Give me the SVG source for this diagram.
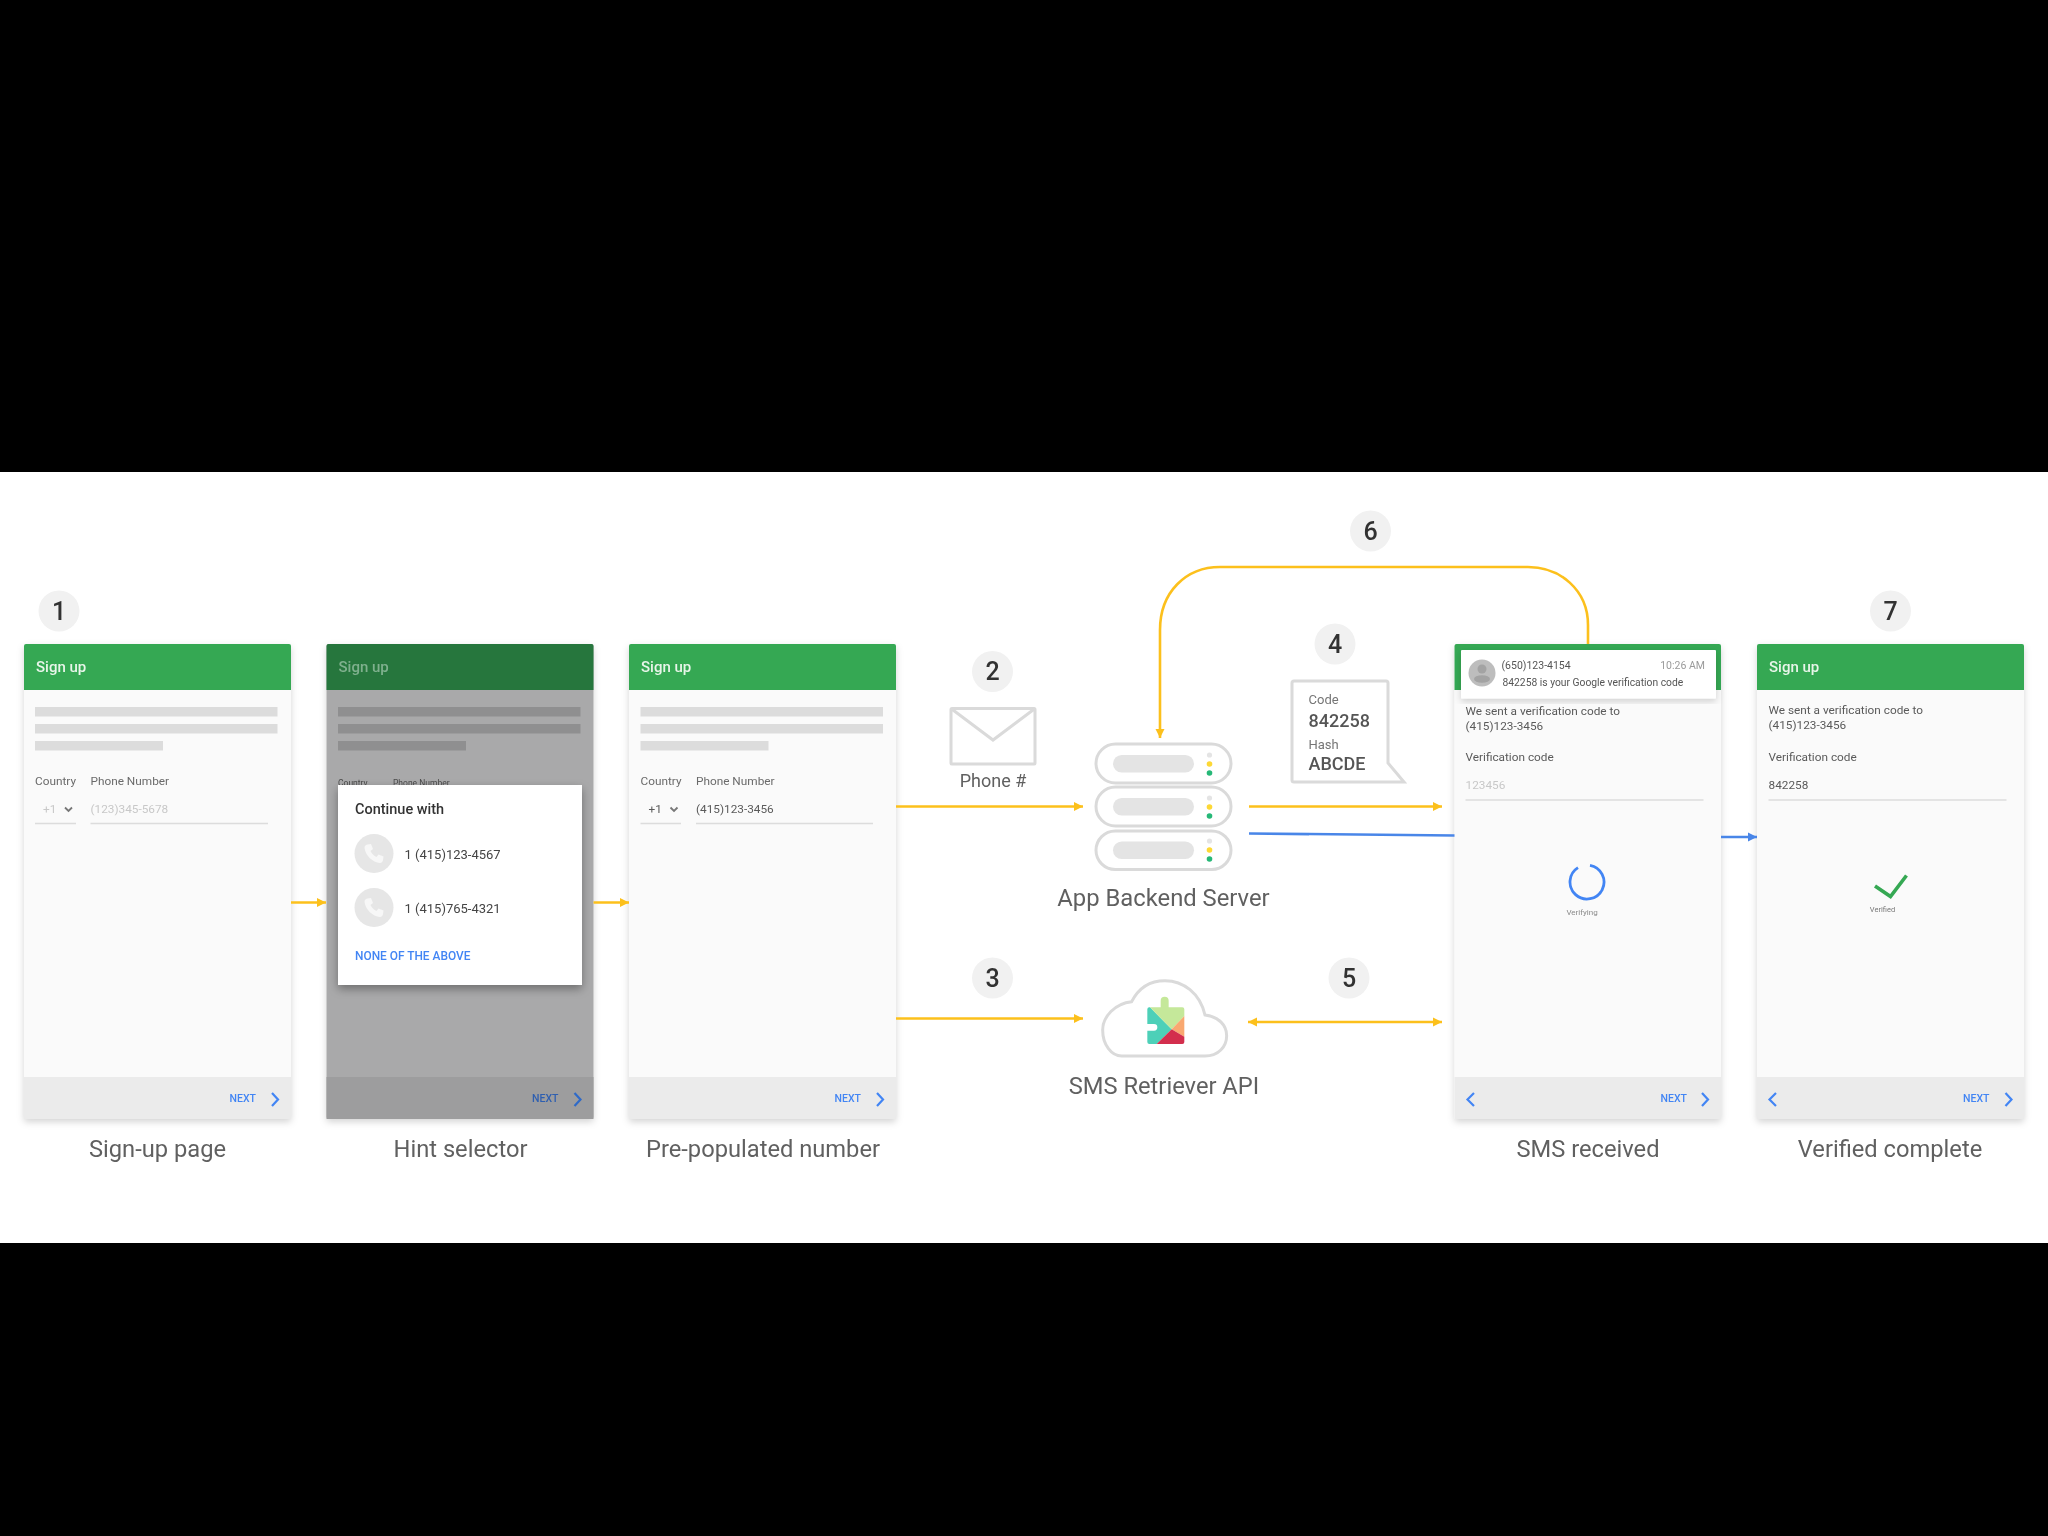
<svg xmlns="http://www.w3.org/2000/svg" width="2048" height="1536" viewBox="0 0 2048 1536">
<style>
text{font-family:Roboto,"Liberation Sans",sans-serif;fill:#616161}
.hdr{fill:#34a853}.body{fill:#fafafa}.foot{fill:#ebebeb}
.su{font-size:15px;font-weight:500;fill:#e8f5e9}
.ln{fill:#dcdcdc}
.lb{font-size:11.800px;fill:#6a6a6a}
.val{font-size:11.800px;fill:#5a5a5a}
.ph{font-size:11.800px;fill:#c8c8c8}
.ul{stroke:#dcdcdc;stroke-width:1.500;fill:none}
.nx{font-size:10.500px;fill:#4285f4;font-weight:500}
.chev{stroke:#4285f4;stroke-width:2.200;fill:none}
.cap{font-size:23.700px;text-anchor:middle}
.numc{fill:#f1f1f1}
.num{font-size:25px;font-weight:500;fill:#333;text-anchor:middle}
.ic{fill:none;stroke:#dadada;stroke-width:3}
.pill{fill:#fff;stroke:#dadada;stroke-width:3}
.inner{fill:#e4e4e4}
.y{fill:#fdd835}.g{fill:#26b877}.w{fill:#e4e4e4}
.cy{fill:none;stroke:#fcc01e;stroke-width:2.600}
.cb{fill:none;stroke:#4a86e8;stroke-width:2.600}
</style>
<defs>
<filter id="soft" x="0" y="0" width="2048" height="1536" filterUnits="userSpaceOnUse"><feGaussianBlur stdDeviation="0.650"/></filter>
<filter id="sh" x="-10%" y="-10%" width="120%" height="120%"><feDropShadow dx="0" dy="3" stdDeviation="3.500" flood-color="#000" flood-opacity="0.170"/></filter>
<filter id="sh2" x="-10%" y="-10%" width="120%" height="125%"><feDropShadow dx="0" dy="4" stdDeviation="5" flood-color="#000" flood-opacity="0.350"/></filter>
<marker id="ay" markerUnits="userSpaceOnUse" markerWidth="10" markerHeight="10" refX="9" refY="5" orient="auto-start-reverse"><path d="M0 0.500L9 5L0 9.500z" fill="#fcc01e"/></marker>
<marker id="ab" markerUnits="userSpaceOnUse" markerWidth="10" markerHeight="10" refX="9" refY="5" orient="auto"><path d="M0 0.500L9 5L0 9.500z" fill="#4a86e8"/></marker>
<path id="handset" d="M-6.500-9L-3-9.500L-1-4.500L-3.500-2.500C-2.500 0 0 2.500 2.500 3.500L4.500 1L9.500 3L9 6.500C9 8 7.500 9.500 6 9.500C-1.500 9-9 1.500-9.500-6C-9.500-7.500-8-9-6.500-9z" fill="#f7f7f7"/>
</defs>
<rect width="2048" height="1536" fill="#000"/>
<rect y="472" width="2048" height="771" fill="#fff"/>
<g filter="url(#soft)">

<g id="screen-signup">
<rect x="24" y="644" width="267" height="475" rx="2" class="body" filter="url(#sh)"/>
<path class="hdr" d="M24 690V646a2 2 0 0 1 2-2H289a2 2 0 0 1 2 2V690z"/>
<rect x="24" y="1077" width="267" height="42" class="foot"/>
<text x="36" y="672" class="su">Sign up</text>
<rect x="35" y="707" width="242.500" height="9.500" class="ln"/><rect x="35" y="724" width="242.500" height="9.500" class="ln"/><rect x="35" y="741" width="128" height="9.500" class="ln"/>
<text x="35" y="785" class="lb">Country</text><text x="90.500" y="785" class="lb">Phone Number</text>
<text x="43" y="813" class="ph">+1</text><path d="M65 807.500l3.500 3.500l3.500-3.500" fill="none" stroke="#777" stroke-width="1.800"/>
<text x="90.500" y="813" class="ph">(123)345-5678</text>
<path class="ul" d="M35 823.500H76M90.500 823.500H268"/>
<text x="229.500" y="1102" class="nx">NEXT</text><path class="chev" d="M272 1093l6 6.500l-6 6.500"/>
<text x="157.500" y="1157" class="cap">Sign-up page</text>
</g>

<g id="screen-hint">
<rect x="326.500" y="644" width="267" height="475" rx="2" fill="#a9a9aa" filter="url(#sh)"/>
<path fill="#26763c" d="M326.500 690V646a2 2 0 0 1 2-2H591.500a2 2 0 0 1 2 2V690z"/>
<rect x="326.500" y="1077" width="267" height="42" fill="#9d9d9e"/>
<text x="338.500" y="672" class="su" style="fill:#7fb08e">Sign up</text>
<rect x="338" y="707" width="242.500" height="9.500" fill="#8f8f90"/><rect x="338" y="724" width="242.500" height="9.500" fill="#8f8f90"/><rect x="338" y="741" width="128" height="9.500" fill="#8f8f90"/>
<text x="338" y="786" font-size="8.500" style="fill:#4a4a4a">Country</text><text x="393" y="786" font-size="8.500" style="fill:#4a4a4a">Phone Number</text>
<rect x="338" y="785" width="244" height="200" fill="#fff" filter="url(#sh2)"/>
<text x="355" y="814" font-size="14.500" font-weight="500" style="fill:#333">Continue with</text>
<circle cx="374" cy="853.500" r="19.500" fill="#e6e6e6"/><circle cx="374" cy="907.500" r="19.500" fill="#e6e6e6"/>
<use href="#handset" x="374" y="853.500"/><use href="#handset" x="374" y="907.500"/>
<text x="404.500" y="859" font-size="13" style="fill:#444">1 (415)123-4567</text>
<text x="404.500" y="912.500" font-size="13" style="fill:#444">1 (415)765-4321</text>
<text x="355" y="960" font-size="11.900" font-weight="500" style="fill:#4285f4">NONE OF THE ABOVE</text>
<text x="532" y="1102" class="nx" style="fill:#2f5fb0">NEXT</text><path class="chev" style="stroke:#2f6ac8" d="M574.500 1093l6 6.500l-6 6.500"/>
<text x="460.500" y="1157" class="cap">Hint selector</text>
</g>

<g id="screen-prepopulated">
<rect x="629" y="644" width="267" height="475" rx="2" class="body" filter="url(#sh)"/>
<path class="hdr" d="M629 690V646a2 2 0 0 1 2-2H894a2 2 0 0 1 2 2V690z"/>
<rect x="629" y="1077" width="267" height="42" class="foot"/>
<text x="641" y="672" class="su">Sign up</text>
<rect x="640.500" y="707" width="242.500" height="9.500" class="ln"/><rect x="640.500" y="724" width="242.500" height="9.500" class="ln"/><rect x="640.500" y="741" width="128" height="9.500" class="ln"/>
<text x="640.500" y="785" class="lb">Country</text><text x="696" y="785" class="lb">Phone Number</text>
<text x="648.500" y="813" class="val">+1</text><path d="M670.500 807.500l3.500 3.500l3.500-3.500" fill="none" stroke="#777" stroke-width="1.800"/>
<text x="696" y="813" class="val">(415)123-3456</text>
<path class="ul" d="M640.500 823.500H681M696 823.500H873"/>
<text x="834.500" y="1102" class="nx">NEXT</text><path class="chev" d="M877 1093l6 6.500l-6 6.500"/>
<text x="763" y="1157" class="cap">Pre-populated number</text>
</g>

<g id="screen-sms">
<rect x="1454.500" y="644" width="266.500" height="475" rx="2" class="body" filter="url(#sh)"/>
<path class="hdr" d="M1454.500 690V646a2 2 0 0 1 2-2H1719a2 2 0 0 1 2 2V690z"/>
<rect x="1454.500" y="1077" width="266.500" height="42" class="foot"/>
<text x="1465.500" y="715" class="val">We sent a verification code to</text>
<text x="1465.500" y="730" class="val">(415)123-3456</text>
<text x="1465.500" y="761" class="val">Verification code</text>
<text x="1465.500" y="788.500" class="ph">123456</text>
<path class="ul" d="M1465.500 800H1703.500"/>
<path d="M1578 867.600A17 17 0 1 0 1590 865.300" fill="none" stroke="#4285f4" stroke-width="2.800"/>
<text x="1582" y="915" font-size="8" text-anchor="middle" style="fill:#8a8a8a">Verifying</text>
<path class="chev" d="M1474 1093l-6.500 6.500l6.500 6.500"/>
<text x="1660.500" y="1102" class="nx">NEXT</text><path class="chev" d="M1702 1093l6 6.500l-6 6.500"/>
<rect x="1461" y="650" width="255" height="48.500" rx="1" fill="#fff" filter="url(#sh)"/>
<circle cx="1482" cy="673" r="13.500" fill="#bdbdbd"/><circle cx="1482" cy="669" r="4.500" fill="#a3a3a3"/><ellipse cx="1482" cy="679" rx="8" ry="3.800" fill="#a3a3a3"/>
<text x="1501.500" y="669" font-size="10.500" style="fill:#555">(650)123-4154</text>
<text x="1705" y="669" font-size="10.500" text-anchor="end" style="fill:#9a9a9a">10:26 AM</text>
<text x="1502.500" y="686" font-size="10.300" style="fill:#555">842258 is your Google verification code</text>
<text x="1588" y="1157" class="cap">SMS received</text>
</g>

<g id="screen-verified">
<rect x="1757" y="644" width="267" height="475" rx="2" class="body" filter="url(#sh)"/>
<path class="hdr" d="M1757 690V646a2 2 0 0 1 2-2H2022a2 2 0 0 1 2 2V690z"/>
<rect x="1757" y="1077" width="267" height="42" class="foot"/>
<text x="1769" y="672" class="su">Sign up</text>
<text x="1768.500" y="714" class="val">We sent a verification code to</text>
<text x="1768.500" y="729" class="val">(415)123-3456</text>
<text x="1768.500" y="761" class="val">Verification code</text>
<text x="1768.500" y="788.500" class="val">842258</text>
<path class="ul" d="M1768.500 800H2006.500"/>
<path d="M1875 886l15.500 10.500l16-21" fill="none" stroke="#34a853" stroke-width="3.600"/>
<text x="1882.500" y="912" font-size="7.500" text-anchor="middle" style="fill:#777">Verified</text>
<path class="chev" d="M1776 1093l-6.500 6.500l6.500 6.500"/>
<text x="1963" y="1102" class="nx">NEXT</text><path class="chev" d="M2005.500 1093l6 6.500l-6 6.500"/>
<text x="1890" y="1157" class="cap">Verified complete</text>
</g>

<g id="envelope">
<rect x="951" y="708.500" width="84" height="55.500" rx="1" class="ic"/>
<path class="ic" d="M951 708.500L993 740L1035 708.500"/>
<text x="993" y="786.500" font-size="18" text-anchor="middle">Phone #</text>
</g>

<g id="server">
<rect x="1096" y="744" width="135" height="39" rx="19.500" class="pill"/><rect x="1096" y="787" width="135" height="39" rx="19.500" class="pill"/><rect x="1096" y="831" width="135" height="38.500" rx="19.250" class="pill"/>
<rect x="1113" y="755" width="81" height="17.500" rx="8.750" class="inner"/><rect x="1113" y="798" width="81" height="17.500" rx="8.750" class="inner"/><rect x="1113" y="841.500" width="81" height="17.500" rx="8.750" class="inner"/>
<circle cx="1209.500" cy="755" r="2.600" class="w"/><circle cx="1209.500" cy="764" r="2.800" class="y"/><circle cx="1209.500" cy="773" r="2.800" class="g"/>
<circle cx="1209.500" cy="798" r="2.600" class="w"/><circle cx="1209.500" cy="807" r="2.800" class="y"/><circle cx="1209.500" cy="816" r="2.800" class="g"/>
<circle cx="1209.500" cy="841" r="2.600" class="w"/><circle cx="1209.500" cy="850" r="2.800" class="y"/><circle cx="1209.500" cy="859" r="2.800" class="g"/>
<text x="1163.500" y="906" font-size="23.800" text-anchor="middle">App Backend Server</text>
</g>

<g id="code-bubble">
<path class="ic" d="M1294 681H1386a2 2 0 0 1 2 2V763L1404 782H1294a2 2 0 0 1-2-2V683a2 2 0 0 1 2-2z"/>
<text x="1308.500" y="704" font-size="13" style="fill:#757575">Code</text>
<text x="1308.500" y="727" font-size="18" font-weight="500" style="fill:#555">842258</text>
<text x="1308.500" y="749" font-size="13" style="fill:#757575">Hash</text>
<text x="1308.500" y="770" font-size="18" font-weight="500" style="fill:#555">ABCDE</text>
</g>

<g id="sms-retriever">
<g transform="translate(1090 970) scale(0.3333)">
<path d="M95 258H345C385 258 410 230 410 197C410 165 385 140 345 135C330 70 280 32 225 32C180 32 145 55 125 95C75 100 38 140 38 180C38 225 65 258 95 258z" fill="#fff" stroke="#dadada" stroke-width="9"/>
<path d="M172 118a6 6 0 0 1 6-6H180L245 178L200 222H178a6 6 0 0 1-6-6V182H192a10 10 0 0 0 0-20H172z" fill="#4dd0b8"/>
<path d="M180 112H212V92a12 12 0 0 1 24 0V112H277a6 6 0 0 1 6 6V138L245 178z" fill="#c5e89a"/>
<path d="M283 138V200L245 178z" fill="#f9a870"/>
<path d="M245 178L283 200V216a6 6 0 0 1-6 6H200z" fill="#d32f4e"/>
</g>
<text x="1164" y="1093.500" font-size="23.700" text-anchor="middle">SMS Retriever API</text>
</g>

<g id="badges">
<circle cx="59" cy="611" r="20.500" class="numc"/><text x="59" y="619.500" class="num">1</text>
<circle cx="992.500" cy="671.500" r="20.500" class="numc"/><text x="992.500" y="680" class="num">2</text>
<circle cx="992.500" cy="978" r="20.500" class="numc"/><text x="992.500" y="986.500" class="num">3</text>
<circle cx="1335" cy="644" r="20.500" class="numc"/><text x="1335" y="652.500" class="num">4</text>
<circle cx="1349" cy="978" r="20.500" class="numc"/><text x="1349" y="986.500" class="num">5</text>
<circle cx="1370.500" cy="531" r="20.500" class="numc"/><text x="1370.500" y="539.500" class="num">6</text>
<circle cx="1890.500" cy="611" r="20.500" class="numc"/><text x="1890.500" y="619.500" class="num">7</text>
</g>

<g id="connectors">
<path class="cy" marker-end="url(#ay)" d="M291 902.500H326"/>
<path class="cy" marker-end="url(#ay)" d="M593.500 902.500H629"/>
<path class="cy" marker-end="url(#ay)" d="M896 806.500H1083"/>
<path class="cy" marker-end="url(#ay)" d="M896 1018.500H1083"/>
<path class="cy" marker-end="url(#ay)" d="M1249 806.500H1442"/>
<path class="cy" marker-start="url(#ay)" marker-end="url(#ay)" d="M1248 1022H1442"/>
<path class="cy" marker-end="url(#ay)" d="M1588 644V625C1588 590 1560 567 1528 567H1220C1186 567 1160 592 1160 630V738"/>
<path class="cb" d="M1249 833.500L1454.500 835.500"/>
<path class="cb" marker-end="url(#ab)" d="M1721 837H1757"/>
</g>
</g>
</svg>
